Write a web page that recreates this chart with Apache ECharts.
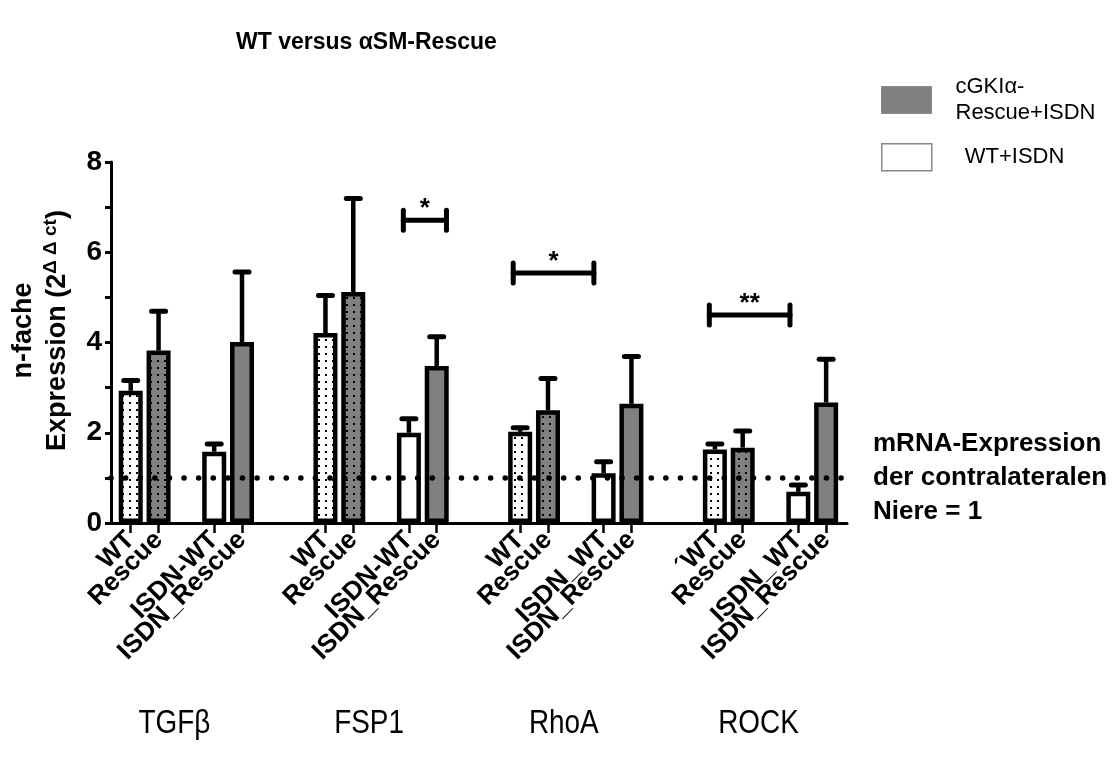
<!DOCTYPE html>
<html><head><meta charset="utf-8">
<script src="https://cdn.jsdelivr.net/npm/echarts@6/dist/echarts.min.js"></script>
<style>html,body{margin:0;padding:0;background:#fff}#c{width:1118px;height:767px}</style>
</head><body><div id="c"></div><script>
// ---- data ----
const genes = ['TGFβ', 'FSP1', 'RhoA', 'ROCK'];
const tickPositions = [0, 1, 3, 4, 7, 8, 10, 11, 14, 15, 17, 18, 21, 22, 24, 25];
const tickLabels = ['WT', 'Rescue', 'ISDN-WT', 'ISDN_Rescue',
                    'WT', 'Rescue', 'ISDN-WT', 'ISDN_Rescue',
                    'WT', 'Rescue', 'ISDN_WT', 'ISDN_Rescue',
                    '´WT', 'Rescue', 'ISDN_WT', 'ISDN_Rescue'];
const wtMean         = [2.93, 4.21, 2.02, 1.63];
const wtErr          = [3.16, 5.04, 2.11, 1.75];
const rescueMean     = [3.82, 5.12, 2.50, 1.67];
const rescueErr      = [4.69, 7.19, 3.20, 2.04];
const isdnWtMean     = [1.58, 2.00, 1.10, 0.69];
const isdnWtErr      = [1.75, 2.31, 1.36, 0.84];
const isdnRescueMean = [4.01, 3.48, 2.64, 2.67];
const isdnRescueErr  = [5.56, 4.13, 3.69, 3.63];
const sigFrom   = [9.8, 13.75, 20.8];
const sigTo     = [11.35, 16.65, 23.7];
const sigY      = [6.71, 5.54, 4.61];
const sigLabels = ['*', '*', '**'];
const refLevel = 1;
const refText = 'mRNA-Expression\nder contralateralen\nNiere = 1';
const legendRescue = 'cGKIα-\nRescue+ISDN';
const legendWt = 'WT+ISDN';

// ---- build ----
const FONT = "'Liberation Sans', Arial, sans-serif";
function dotPattern(bg) {
  const c = document.createElement('canvas'); c.width = 7; c.height = 7;
  const x = c.getContext('2d');
  x.fillStyle = bg; x.fillRect(0, 0, 7, 7);
  x.fillStyle = '#000'; x.fillRect(3, 3, 2, 2);
  return { image: c, repeat: 'repeat' };
}
const GRAY = '#808080';
const pos = (g, k) => tickPositions[g * 4 + k];
const mk = (arr, k) => arr.map((v, g) => [pos(g, k), v]);
const errData = [];
[[wtMean, wtErr], [rescueMean, rescueErr], [isdnWtMean, isdnWtErr], [isdnRescueMean, isdnRescueErr]]
  .forEach(([m, e], k) => m.forEach((v, g) => errData.push([pos(g, k), v, e[g]])));
const sigData = sigFrom.map((f, i) => [f, sigTo[i], sigY[i], sigLabels[i]]);
// split tick labels over two axes so neighbouring rotated labels may overlap freely (as in the original)
const ticksA = tickPositions.filter((_, i) => i % 2 === 0);
const ticksB = tickPositions.filter((_, i) => i % 2 === 1);
const labelOf = (v) => tickLabels[tickPositions.indexOf(Math.round(v))];

const barCommon = (color) => ({
  type: 'bar', barWidth: 24, barGap: '-100%',
  itemStyle: { color, borderColor: '#000', borderWidth: 4.5 },
  silent: true, z: 2
});
const xLabelStyle = (vals) => ({
  customValues: vals, rotate: 45, margin: 13, showMinLabel: true, showMaxLabel: true, hideOverlap: false,
  fontSize: 26, fontWeight: 'bold', color: '#000', fontFamily: FONT, formatter: labelOf
});

const chart = echarts.init(document.getElementById('c'), null, { renderer: 'canvas' });
chart.setOption({
  animation: false,
  backgroundColor: '#fff',
  title: {
    text: 'WT versus αSM-Rescue', left: 231, top: 26,
    textStyle: { fontSize: 23, fontWeight: 'bold', color: '#000', fontFamily: FONT }
  },
  legend: [
    {
      data: [{ name: legendRescue, itemStyle: { color: GRAY, borderColor: '#8a8a8a', borderWidth: 1 } }],
      left: 876, top: 66, icon: 'rect', itemWidth: 50, itemHeight: 27, selectedMode: false,
      textStyle: { fontSize: 22, color: '#000', fontFamily: FONT, lineHeight: 26, padding: [6, 0, 0, 19] }
    },
    {
      data: [{ name: legendWt, itemStyle: { color: '#fff', borderColor: '#888', borderWidth: 1.5 } }],
      left: 876, top: 138, icon: 'rect', itemWidth: 50, itemHeight: 27, selectedMode: false,
      textStyle: { fontSize: 22, color: '#000', fontFamily: FONT, padding: [0, 0, 0, 28] }
    }
  ],
  grid: { left: 111, right: 271, top: 162, bottom: 244, containLabel: false, outerBoundsMode: 'none' },
  xAxis: [
    {
      type: 'value', min: -0.71, max: 25.75,
      axisLine: { show: true, onZero: false, lineStyle: { color: '#000', width: 3 } },
      axisTick: { show: true, customValues: tickPositions, length: 10, lineStyle: { color: '#000', width: 2.5 } },
      axisLabel: xLabelStyle(ticksA),
      splitLine: { show: false }
    },
    {
      type: 'value', min: -0.71, max: 25.75, position: 'bottom',
      axisLine: { show: false, onZero: false },
      axisTick: { show: false },
      axisLabel: xLabelStyle(ticksB),
      splitLine: { show: false }
    }
  ],
  yAxis: {
    type: 'value', min: 0, max: 8, interval: 2,
    axisLine: { show: true, onZero: false, lineStyle: { color: '#000', width: 3 } },
    axisTick: { show: true, length: 6, lineStyle: { color: '#000', width: 3 } },
    minorTick: { show: true, splitNumber: 2, length: 6, lineStyle: { color: '#000', width: 3 } },
    splitLine: { show: false },
    axisLabel: { fontSize: 28, fontWeight: 'bold', color: '#000', margin: 9, fontFamily: FONT },
    name: '{b|n-fache}\n{b|Expression (2}{s|Δ Δ ct}{b|)}',
    nameLocation: 'middle', nameRotate: 90, nameGap: 36,
    nameTextStyle: {
      color: '#000', fontFamily: FONT, fontWeight: 'bold', padding: [0, 0, 0, 24],
      rich: {
        b: { fontSize: 27, fontWeight: 'bold', lineHeight: 34, fontFamily: FONT },
        s: { fontSize: 19, fontWeight: 'bold', lineHeight: 22, verticalAlign: 'top', fontFamily: FONT }
      }
    }
  },
  series: [
    Object.assign(barCommon(dotPattern('#fff')), { name: 'WT', data: mk(wtMean, 0) }),
    Object.assign(barCommon(dotPattern(GRAY)), { name: 'Rescue', data: mk(rescueMean, 1) }),
    Object.assign(barCommon('#fff'), { name: legendWt, data: mk(isdnWtMean, 2) }),
    Object.assign(barCommon(GRAY), {
      name: legendRescue, data: mk(isdnRescueMean, 3),
      markLine: {
        silent: true, symbol: 'none', z: 5,
        lineStyle: { color: '#000', width: 5.5, type: [0.1, 14.5], cap: 'round' },
        label: {
          show: true, position: 'end', distance: 26, formatter: refText,
          fontSize: 26, fontWeight: 'bold', lineHeight: 34, color: '#000', fontFamily: FONT, align: 'left'
        },
        data: [{ yAxis: refLevel }]
      }
    }),
    {
      type: 'custom', name: 'err', silent: true, z: 3,
      data: errData,
      renderItem: (params, api) => {
        const p0 = api.coord([api.value(0), api.value(1)]);
        const p1 = api.coord([api.value(0), api.value(2)]);
        return { type: 'group', children: [
          { type: 'line', shape: { x1: p0[0], y1: p0[1], x2: p1[0], y2: p1[1] }, style: { stroke: '#000', lineWidth: 4.5 } },
          { type: 'line', shape: { x1: p1[0] - 7, y1: p1[1], x2: p1[0] + 7, y2: p1[1] }, style: { stroke: '#000', lineWidth: 5, lineCap: 'round' } }
        ] };
      }
    },
    {
      type: 'custom', name: 'sig', silent: true, z: 4,
      data: sigData,
      renderItem: (params, api) => {
        const a = api.coord([api.value(0), api.value(2)]);
        const b = api.coord([api.value(1), api.value(2)]);
        const st = { stroke: '#000', lineWidth: 5, lineCap: 'round' };
        return { type: 'group', children: [
          { type: 'line', shape: { x1: a[0], y1: a[1], x2: b[0], y2: b[1] }, style: st },
          { type: 'line', shape: { x1: a[0], y1: a[1] - 10, x2: a[0], y2: a[1] + 10 }, style: st },
          { type: 'line', shape: { x1: b[0], y1: b[1] - 10, x2: b[0], y2: b[1] + 10 }, style: st },
          { type: 'text', style: { text: sigData[params.dataIndex][3], x: (a[0] + b[0]) / 2, y: a[1] + 2,
              align: 'center', verticalAlign: 'bottom', font: 'bold 26px ' + FONT, fill: '#000' } }
        ] };
      }
    }
  ]
});

// gene group labels beneath the axis
const geneGraphics = genes.map((g, i) => {
  const cx = chart.convertToPixel({ xAxisIndex: 0 }, (pos(i, 0) + pos(i, 3)) / 2) - 12;
  return {
    type: 'text', x: cx, y: 724, scaleX: 0.82,
    style: { text: g, align: 'center', verticalAlign: 'middle', font: '34px ' + FONT, fill: '#000' }
  };
});
chart.setOption({ graphic: geneGraphics });
</script></body></html>
